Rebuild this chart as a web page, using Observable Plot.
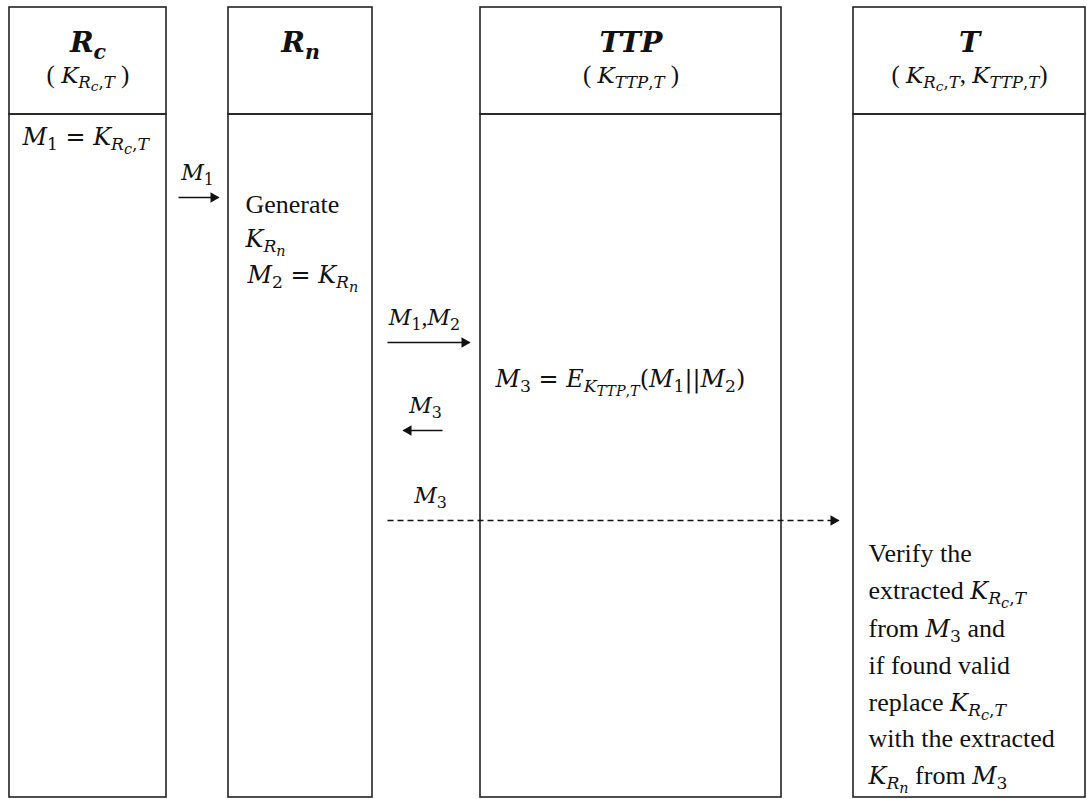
<!DOCTYPE html>
<html>
<head>
<meta charset="utf-8">
<script src="https://cdn.jsdelivr.net/npm/d3@7"></script>
<script src="https://cdn.jsdelivr.net/npm/@observablehq/plot@0.6"></script>
<style>
  html, body { margin: 0; padding: 0; background: #fff; }
  svg text { white-space: pre; }
</style>
</head>
<body>
<div id="chart"></div>
<script>
// ---- Data (diagram content) ----
const laneNames = ["$R_{c}$", "$R_{n}$", "$TTP$", "$T$"];
const laneKeys = ["( $K_{R_{c},T}$ )", "", "( $K_{TTP,T}$ )", "( $K_{R_{c},T}$, $K_{TTP,T}$)"];
const laneLeft = [9, 228, 480, 853];
const laneRight = [166, 372, 781, 1085];
const laneTop = 7, headerBottom = 114, laneBottom = 797;

const msgLabels = ["$M_{1}$", "$M_{1}$,$M_{2}$", "$M_{3}$", "$M_{3}$"];
const msgFrom = [178, 387, 442, 387];
const msgTo = [218, 469, 403, 838];
const msgY = [197, 342, 430, 520];
const msgLabelX = [197, 424, 425, 430];
const msgDashed = [false, false, false, true];

const noteText = [
  "$M_{1} = K_{R_{c},T}$",
  "Generate", "$K_{R_{n}}$", "$M_{2} = K_{R_{n}}$",
  "$M_{3} = E_{K_{TTP,T}}(M_{1}||M_{2})$",
  "Verify the", "extracted $K_{R_{c},T}$", "from $M_{3}$ and", "if found valid",
  "replace $K_{R_{c},T}$", "with the extracted", "$K_{R_{n}}$ from $M_{3}$"
];
const noteX = [22, 245, 245, 247, 495, 868, 868, 868, 868, 868, 868, 868];
const noteY = [136, 204, 238, 274, 378, 553, 590, 628, 665, 702, 738, 775];

// ---- Tables built from arrays ----
const lanes = laneNames.map((name, i) => ({name, key: laneKeys[i], x1: laneLeft[i], x2: laneRight[i], xc: (laneLeft[i] + laneRight[i]) / 2}));
const msgs = msgLabels.map((label, i) => ({label, x1: msgFrom[i], x2: msgTo[i], y: msgY[i], lx: msgLabelX[i], dashed: msgDashed[i], dir: msgTo[i] > msgFrom[i] ? 1 : -1}));
const notes = noteText.map((t, i) => ({t, x: noteX[i], y: noteY[i]}));

const serif = "'Liberation Serif', 'Times New Roman', serif";
const mathFont = "'DejaVu Serif', serif";

const plot = Plot.plot({
  width: 1087,
  height: 799,
  margin: 0,
  x: {domain: [0, 1087], range: [0, 1087], axis: null},
  y: {domain: [0, 799], range: [0, 799], axis: null},
  style: {fontFamily: serif, background: "#fff", color: "#111"},
  marks: [
    Plot.rect(lanes, {x1: "x1", x2: "x2", y1: laneTop, y2: headerBottom, stroke: "#222", strokeWidth: 1.6, fill: "none"}),
    Plot.rect(lanes, {x1: "x1", x2: "x2", y1: headerBottom, y2: laneBottom, stroke: "#222", strokeWidth: 1.6, fill: "none"}),
    Plot.text(lanes, {x: "xc", y: 42, text: "name", fontSize: 31, fontWeight: "bold", fill: "#111"}),
    Plot.text(lanes.filter(d => d.key), {x: "xc", y: 74, text: "key", fontSize: 25, fill: "#111"}),
    // message lines
    Plot.link(msgs.filter(d => !d.dashed), {x1: "x1", x2: "x2", y1: "y", y2: "y", stroke: "#111", strokeWidth: 1.6}),
    Plot.link(msgs.filter(d => d.dashed), {x1: "x1", x2: "x2", y1: "y", y2: "y", stroke: "#111", strokeWidth: 1.6, strokeDasharray: "6,4"}),
    // arrow heads
    Plot.dot(msgs.filter(d => d.dir > 0), {x: "x2", y: "y", dx: -5, symbol: "triangle2", rotate: 90, r: 5, fill: "#111", stroke: "none"}),
    Plot.dot(msgs.filter(d => d.dir < 0), {x: "x2", y: "y", dx: 5, symbol: "triangle2", rotate: -90, r: 5, fill: "#111", stroke: "none"}),
    Plot.text(msgs, {x: "lx", y: "y", dy: -25, text: "label", fontSize: 24, fill: "#111"}),
    Plot.text(notes, {x: "x", y: "y", text: "t", textAnchor: "start", fontSize: 26, fill: "#111"})
  ]
});

document.getElementById("chart").appendChild(plot);

// ---- Rich text (math italics + subscripts) ----
function parseRich(s) {
  const runs = [];
  function push(r) {
    const last = runs[runs.length - 1];
    if (last && last.level === r.level && last.italic === r.italic && last.math === r.math) last.text += r.text;
    else runs.push(r);
  }
  s.split("$").forEach((p, i) => {
    const math = i % 2 === 1;
    if (!math) { if (p) push({text: p, level: 0, italic: false, math: false}); return; }
    let level = 0;
    for (let k = 0; k < p.length; k++) {
      const c = p[k];
      if (c === "_" && p[k + 1] === "{") { level++; k++; continue; }
      if (c === "}") { level--; continue; }
      push({text: c, level, italic: /[A-Za-z]/.test(c), math: true});
    }
  });
  return runs;
}

const NS = "http://www.w3.org/2000/svg";
plot.querySelectorAll("text").forEach(t => {
  const s = t.textContent;
  if (!s.includes("$")) return;
  const fs0 = parseFloat(getComputedStyle(t).fontSize);
  const runs = parseRich(s);
  while (t.firstChild) t.removeChild(t.firstChild);
  const scales = [1, 0.72, 0.6];
  const offs = [0, 0.2, 0.34];
  let prev = 0;
  for (const r of runs) {
    const fs = r.math ? fs0 * 0.92 : fs0;
    const ts = document.createElementNS(NS, "tspan");
    ts.setAttribute("font-size", (fs * scales[r.level]).toFixed(2));
    const off = offs[r.level] * fs0;
    if (off !== prev) ts.setAttribute("dy", (off - prev).toFixed(2));
    prev = off;
    if (r.italic) ts.setAttribute("font-style", "italic");
    if (r.math) ts.setAttribute("font-family", mathFont);
    ts.textContent = r.text;
    t.appendChild(ts);
  }
});
</script>
</body>
</html>
